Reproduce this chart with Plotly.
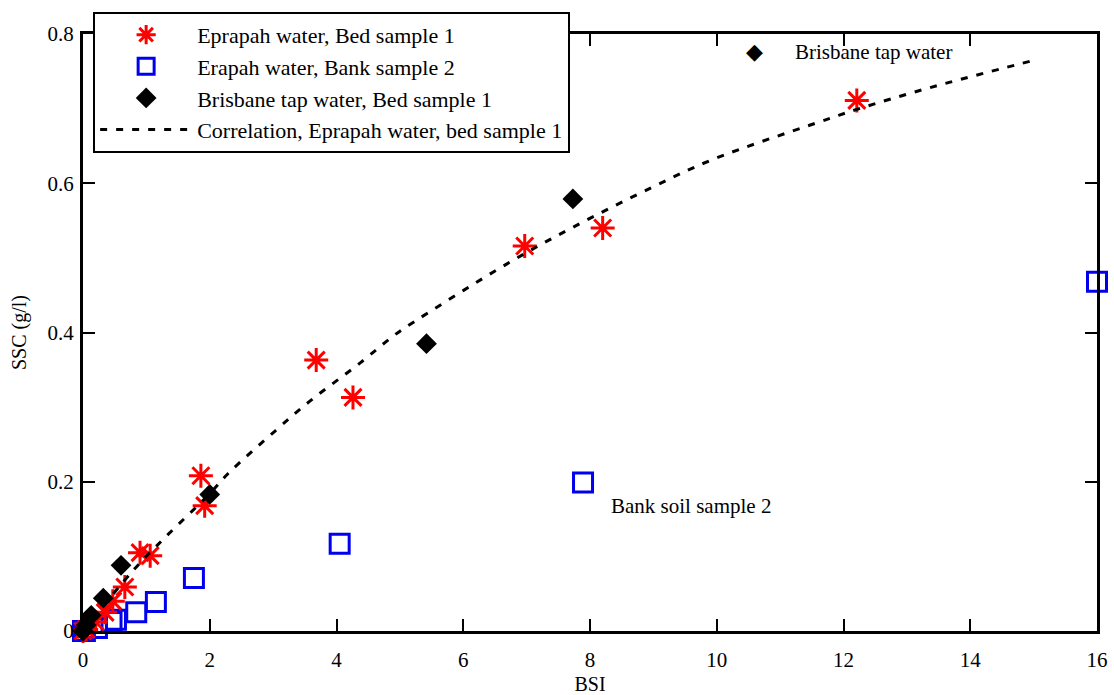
import plotly.graph_objects as go

# Eprapah water, Bed sample 1
bed1_x = [0.0, 0.05, 0.2, 0.35, 0.47, 0.66, 0.90, 1.06, 1.86, 1.92, 3.68, 4.26, 6.97, 8.2, 12.21]
bed1_y = [0.0, 0.002, 0.012, 0.025, 0.04, 0.059, 0.105, 0.101, 0.208, 0.168, 0.363, 0.313, 0.516, 0.54, 0.711]

# Erapah water, Bank sample 2
bank2_x = [0.0, 0.03, 0.22, 0.45, 0.52, 0.84, 1.15, 1.75, 4.05, 7.89, 16.0]
bank2_y = [0.0, 0.0, 0.004, 0.012, 0.015, 0.025, 0.039, 0.071, 0.117, 0.199, 0.468]

# Brisbane tap water, Bed sample 1
tap_x = [0.0, 0.05, 0.13, 0.32, 0.60, 2.0, 5.42, 7.73]
tap_y = [0.0, 0.008, 0.021, 0.044, 0.088, 0.183, 0.385, 0.579]

# Correlation, Eprapah water, bed sample 1
corr_x = [0.0, 0.79, 1.29, 2.0, 2.29, 3.03, 3.58, 4.37, 4.89, 5.11, 6.69, 7.73, 8.99, 9.94, 11.58, 12.21, 13.36, 14.97]
corr_y = [0.0, 0.081, 0.125, 0.184, 0.211, 0.268, 0.308, 0.359, 0.395, 0.408, 0.492, 0.541, 0.595, 0.632, 0.681, 0.699, 0.728, 0.764]

x_ticks = [0, 2, 4, 6, 8, 10, 12, 14, 16]
y_ticks = [0, 0.2, 0.4, 0.6, 0.8]
y_tick_labels = ["0", "0.2", "0.4", "0.6", "0.8"]

FONT = "Liberation Serif, Times New Roman, serif"

fig = go.Figure()

fig.add_trace(go.Scatter(
    x=bank2_x, y=bank2_y, mode="markers", name="Erapah water, Bank sample 2",
    marker=dict(symbol="square-open", size=19, color="#0000ee", line=dict(width=3, color="#0000ee")),
    cliponaxis=False, legendrank=2,
))
fig.add_trace(go.Scatter(
    x=bed1_x, y=bed1_y, mode="markers", name="Eprapah water, Bed sample 1",
    marker=dict(symbol="asterisk-open", size=20, color="#ff0000", line=dict(width=3, color="#ff0000")),
    cliponaxis=False, legendrank=1,
))
fig.add_trace(go.Scatter(
    x=tap_x, y=tap_y, mode="markers", name="Brisbane tap water, Bed sample 1",
    marker=dict(symbol="diamond", size=16, color="black"),
    cliponaxis=False, legendrank=3,
))
fig.add_trace(go.Scatter(
    x=corr_x, y=corr_y, mode="lines", name="Correlation, Eprapah water, bed sample 1",
    line=dict(color="black", width=3, dash="7px,9px", shape="spline"),
    cliponaxis=False, legendrank=4,
))

axis_common = dict(
    showline=True, linecolor="black", linewidth=3, mirror="ticks",
    ticks="inside", ticklen=12, tickwidth=2, tickcolor="black",
    showgrid=False, zeroline=False, automargin=False,
    tickfont=dict(family=FONT, size=21, color="black"),
)

fig.update_xaxes(range=[0, 16], tickvals=x_ticks, ticklabelstandoff=8,
                 title=dict(text="BSI", font=dict(family=FONT, size=20, color="black"), standoff=6), **axis_common)
fig.update_yaxes(range=[0, 0.8], tickvals=y_ticks, ticktext=y_tick_labels, ticklabelstandoff=2,
                 title=dict(text="SSC (g/l)", font=dict(family=FONT, size=20, color="black"), standoff=16), **axis_common)

fig.add_annotation(x=10.6, y=0.776, xref="x", yref="y", text="◆", showarrow=False,
                   font=dict(family="DejaVu Sans", size=22, color="black"))
fig.add_annotation(x=11.2, y=0.776, xref="x", yref="y", text="Brisbane tap water", showarrow=False,
                   xanchor="left", font=dict(family=FONT, size=21, color="black"))
fig.add_annotation(x=8.3, y=0.167, xref="x", yref="y", text="Bank soil sample 2", showarrow=False,
                   xanchor="left", font=dict(family=FONT, size=21, color="black"))

fig.update_layout(
    width=1114, height=695,
    margin=dict(l=83, r=17, t=31, b=64),
    font=dict(family=FONT, color="black"),
    paper_bgcolor="white", plot_bgcolor="white",
    showlegend=True,
    legend=dict(
        x=0.01, y=1.037, xanchor="left", yanchor="top",
        bgcolor="white", bordercolor="black", borderwidth=2,
        font=dict(family=FONT, size=22, color="black"),
        tracegroupgap=0, itemwidth=92,
    ),
)

fig.write_html("out.html")
